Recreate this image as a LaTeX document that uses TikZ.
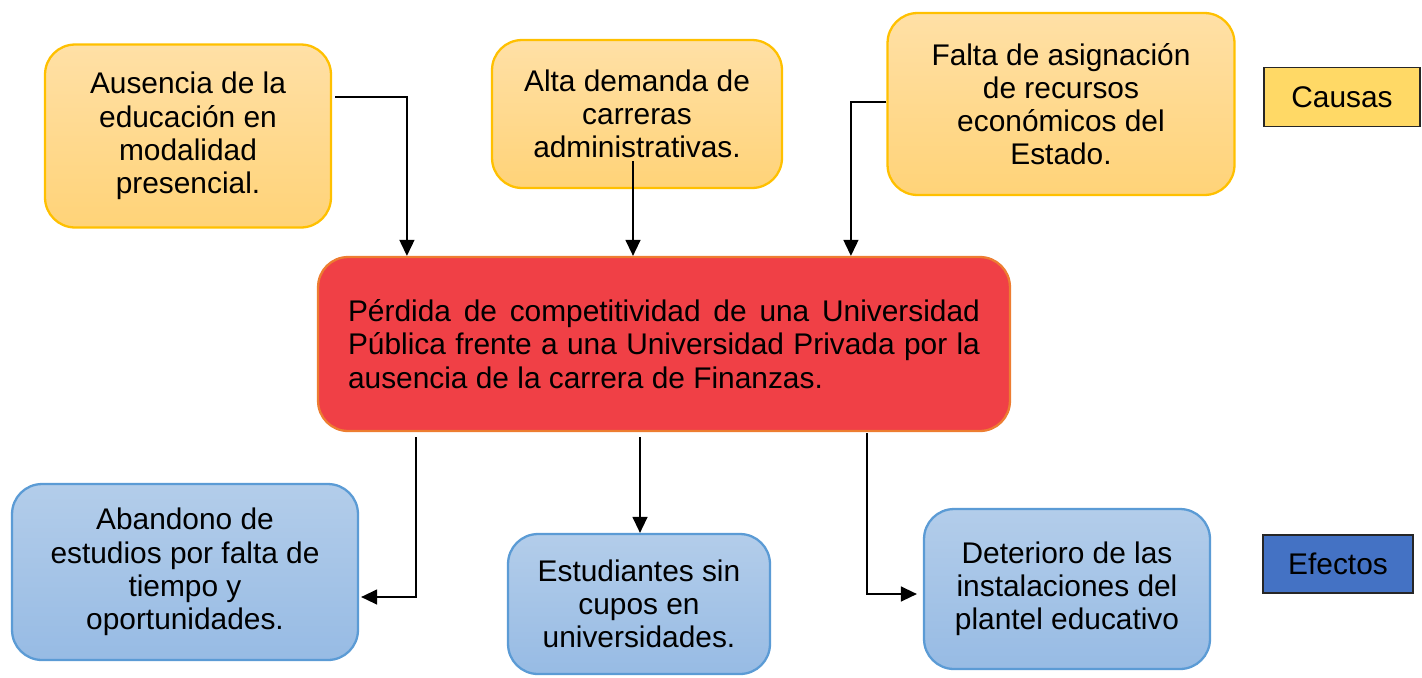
\documentclass[tikz,border=0pt]{standalone}
\usepackage{fontspec}
\setmainfont{Liberation Sans}
\usetikzlibrary{calc,arrows.meta}
\definecolor{causaborde}{HTML}{FFC000}
\definecolor{causaarriba}{HTML}{FFE0A6}
\definecolor{causaabajo}{HTML}{FFD378}
\definecolor{efectoborde}{HTML}{5B9BD5}
\definecolor{efectoarriba}{HTML}{B3CDEA}
\definecolor{efectoabajo}{HTML}{97BBE4}
\definecolor{rojoproblema}{HTML}{F04046}
\definecolor{bordeproblema}{HTML}{ED7D31}
\definecolor{amarillocausa}{HTML}{FFD966}
\definecolor{azulefecto}{HTML}{4472C4}
\tikzset{
	causa/.style={draw=causaborde, line width=1.3pt, rounded corners=0.6cm, top color=causaarriba, bottom color=causaabajo, align=center, inner sep=0pt},
	efecto/.style={draw=efectoborde, line width=1.3pt, rounded corners=0.6cm, top color=efectoarriba, bottom color=efectoabajo, align=center, inner sep=0pt},
	leyenda/.style={draw=black!85, line width=1pt, inner sep=0pt, align=center},
	flecha/.style={line width=0.8pt, -{Triangle[length=0.32cm,width=0.3cm]}}
}
\begin{document}
\fontsize{17}{18.9}\selectfont
\begin{tikzpicture}[x=0.02cm, y=-0.02cm]
		%%%%% START %%%%%
		\useasboundingbox (0,0) rectangle (1422,677);
		
		% causas
		\node[causa, minimum width=5.72cm, minimum height=3.66cm] (ausencia) at (188,136) {Ausencia de la\\educación en\\modalidad\\presencial.};
		\node[causa, minimum width=5.8cm, minimum height=2.96cm] (demanda) at (637,114) {Alta demanda de\\carreras\\administrativas.};
		\node[causa, minimum width=6.94cm, minimum height=3.64cm] (recursos) at (1061,104) {Falta de asignación\\de recursos\\económicos del\\Estado.};
		
		% problema
		\node[draw=bordeproblema, line width=1.3pt, rounded corners=0.6cm, fill=rojoproblema, minimum width=13.84cm, minimum height=3.48cm, text width=12.64cm, align=justify, inner sep=0pt] (problema) at (664,344) {Pérdida de competitividad de una Universidad Pública frente a una Universidad Privada por la ausencia de la carrera de Finanzas.};
		
		% efectos
		\node[efecto, minimum width=6.92cm, minimum height=3.52cm] (abandono) at (185,572) {Abandono de\\estudios por falta de\\tiempo y\\oportunidades.};
		\node[efecto, minimum width=5.24cm, minimum height=2.8cm] (cupos) at (639,604) {Estudiantes sin\\cupos en\\universidades.};
		\node[efecto, minimum width=5.72cm, minimum height=3.2cm] (deterioro) at (1067,589) {Deterioro de las\\instalaciones del\\plantel educativo};
		
		% leyenda
		\node[leyenda, fill=amarillocausa, minimum width=3.12cm, minimum height=1.18cm] (causas) at (1342,97) {Causas};
		\node[leyenda, fill=azulefecto, minimum width=3.0cm, minimum height=1.16cm] (efectos) at (1338,564) {Efectos};
		
		% flechas causas
		\coordinate (inicioDemanda) at ($(demanda.south)+(-4,-28)$);
		\draw[flecha] ($(ausencia.east)+(3,-39)$) -| ($(problema.north west)+(90,0)$);
		\draw[flecha] (inicioDemanda) -- (inicioDemanda |- problema.north);
		\draw[flecha] ($(recursos.west)+(0,-2)$) -| ($(problema.north west)+(534,0)$);
		
		% flechas efectos
		\coordinate (inicioCupos) at ($(problema.south)+(-24,5)$);
		\draw[flecha] ($(problema.south west)+(99,5)$) |- ($(abandono.east)+(2,25)$);
		\draw[flecha] (inicioCupos) -- (inicioCupos |- cupos.north);
		\draw[flecha] ($(problema.south west)+(550,1)$) |- ($(deterioro.west)+(-6,5)$);
		
		%%%%% END %%%%%
\end{tikzpicture}
\end{document}
